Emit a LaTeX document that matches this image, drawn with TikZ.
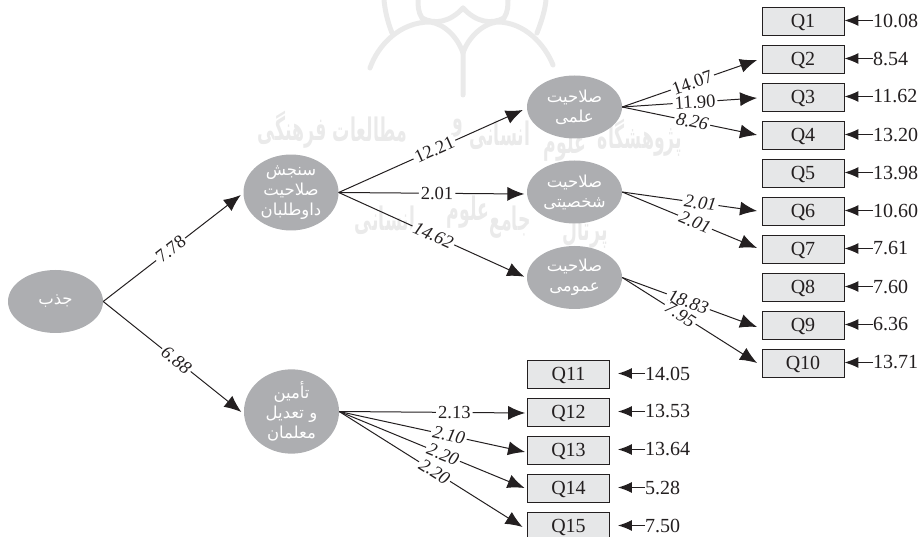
\documentclass[tikz,border=0pt]{standalone}
\usepackage{fontspec}
\setmainfont{Liberation Serif}
\newfontfamily\arabicfont[Script=Arabic]{DejaVu Sans}
\TeXXeTstate=1
\usetikzlibrary{arrows.meta,calc,shapes.geometric}
\definecolor{ellfill}{HTML}{ADAEB1}
\definecolor{ellband}{HTML}{A4A5A8}
\definecolor{boxfill}{HTML}{E6E7E8}
\definecolor{ink}{HTML}{231F20}
\definecolor{wm}{HTML}{EAEAEA}
\tikzset{
  latent/.style={ellipse,fill=ellfill,minimum width=95pt,minimum height=63pt,inner sep=0pt,text=white,align=center,font=\arabicfont\fontsize{16.5}{20}\selectfont},
  itembox/.style={rectangle,draw=ink,line width=0.9pt,fill=boxfill,minimum width=82pt,minimum height=28pt,inner sep=0pt,text height=13pt,text depth=0pt,font=\fontsize{20}{20}\selectfont,text=ink},
  errlabel/.style={anchor=west,inner sep=0pt,font=\fontsize{20}{20}\selectfont,text=ink},
  link/.style={draw=ink,line width=1pt,-{Latex[length=17pt,width=14pt]}},
  coef/.style={sloped,fill=white,inner xsep=2pt,inner ysep=0pt,font=\fontsize{18.5}{18.5}\selectfont,text=ink},
  coefi/.style={coef,font=\fontsize{18.5}{18.5}\selectfont\itshape},
  errlink/.style={draw=ink,line width=1pt,-{Latex[length=14pt,width=11pt]}},
  orn/.style={draw=wm,line width=5pt,line cap=round},
  wmtext/.style={text=wm,inner sep=0pt,transform shape,xscale=0.72,yscale=1.35,font=\arabicfont\bfseries\fontsize{24}{24}\selectfont}
}
\begin{document}
\begin{tikzpicture}[x=1pt,y=-1pt]
\useasboundingbox (0,0) rectangle (922,537);
% watermark
\draw[orn] (370,68) .. controls (378,45) and (400,22) .. (430,22) .. controls (445,24) and (458,38) .. (463,53) -- (463,95);
\draw[orn] (553,65) .. controls (545,45) and (525,22) .. (497,22) .. controls (482,24) and (468,38) .. (463,53);
\draw[orn] (463,8) .. controls (450,22) and (435,25) .. (422,18) .. controls (418,12) and (418,5) .. (418,0);
\draw[orn] (463,8) .. controls (476,22) and (491,25) .. (504,18) .. controls (508,12) and (508,5) .. (508,0);
\draw[orn] (392,33) .. controls (387,20) and (385,10) .. (384,0);
\draw[orn] (537,33) .. controls (542,20) and (545,10) .. (546,0);
\begin{scope}[y=1pt]
\node[wmtext] (wmA1) at (640,-138) {\beginR پژوهشگاه\endR};
\node[wmtext] (wmA2) at (565,-145) {\beginR علوم\endR};
\node[wmtext] (wmA3) at (500,-135) {\beginR انسانی\endR};
\node[wmtext] (wmA4) at (458,-128) {\beginR و\endR};
\node[wmtext] (wmA5) at (370,-130) {\beginR مطالعات\endR};
\node[wmtext] (wmA6) at (292,-130) {\beginR فرهنگی\endR};
\node[wmtext] (wmB1) at (585,-232) {\beginR پرتال\endR};
\node[wmtext] (wmB2) at (510,-222) {\beginR جامع\endR};
\node[wmtext] (wmB3) at (468,-212) {\beginR علوم\endR};
\node[wmtext] (wmB4) at (385,-220) {\beginR انسانی\endR};
\end{scope}
% latent variables
\node[latent] (jazb) at (55.5,301.5) {\beginR جذب\endR};
\node[latent,path picture={\fill[ellband] (244,161) rectangle (257,224);}] (sanjesh) at (291,192.5) {\beginR سنجش\endR\\\beginR صلاحیت\endR\\\beginR داوطلبان\endR};
\node[latent] (elmi) at (574.5,107) {\beginR صلاحیت\endR\\\beginR علمی\endR};
\node[latent] (shakhsi) at (574.5,192) {\beginR صلاحیت\endR\\\beginR شخصیتی\endR};
\node[latent,path picture={\fill[ellband] (527,273) rectangle (622,310);}] (omumi) at (574.5,277.5) {\beginR صلاحیت\endR\\\beginR عمومی\endR};
\node[latent] (tamin) at (291.5,411.5) {\beginR تأمین\endR\\\beginR و تعدیل\endR\\\beginR معلمان\endR};
% indicator boxes
\foreach \n/\yy in {1/21,2/59,3/97,4/135,5/173,6/211,7/249,8/287,9/325,10/363}
  \node[itembox] (Q\n) at (803,\yy) {Q\n};
\foreach \n/\yy in {11/374,12/412,13/450,14/488,15/526}
  \node[itembox] (Q\n) at (568.5,\yy) {Q\n};
% error terms
\foreach \n/\v/\yy in {1/10.08/21,2/8.54/59,3/11.62/97,4/13.20/135,5/13.98/173,6/10.60/211,7/7.61/249,8/7.60/287,9/6.36/325,10/13.71/363}{
  \node[errlabel] (e\n) at (873,\yy-0.5) {\v};
  \draw[errlink] (e\n.west) -- (Q\n.east |- e\n.west);
}
\foreach \n/\v/\yy in {11/14.05/374,12/13.53/412,13/13.64/450,14/5.28/488,15/7.50/526}{
  \node[errlabel] (e\n) at (645,\yy-0.5) {\v};
  \draw[errlink,shorten >=8pt] (e\n.west) -- (Q\n.east |- e\n.west);
}
% structural paths
\coordinate (j) at (jazb.east);
\draw[link] (j) -- node[coef,pos=0.49] {7.78} ($(sanjesh.west)+(-2.5,2.5)$);
\draw[link] (j) -- node[coefi,pos=0.53] {6.88} ($(tamin.west)+(-2.5,0.5)$);
\draw[link] (sanjesh.east) -- node[coef,pos=0.52] {12.21} ($(elmi.west)+(-4,3)$);
\draw[link] (sanjesh.east) -- node[coef,pos=0.53] {2.01} ($(shakhsi.west)+(-2.5,2)$);
\draw[link] (sanjesh.east) -- node[coefi,pos=0.51] {14.62} ($(omumi.west)+(-2.5,-0.8)$);
% elmi
\draw[link] (elmi.east) -- node[coef,pos=0.52] {14.07} ($(Q2.west)+(-4.5,1)$);
\draw[link] (elmi.east) -- node[coef,pos=0.54] {11.90} ($(Q3.west)+(-4.5,1)$);
\draw[link] (elmi.east) -- node[coefi,pos=0.52] {8.26} ($(Q4.west)+(-4.5,0)$);
% shakhsi
\draw[link] (shakhsi.east) -- node[coefi,pos=0.58] {2.01} ($(Q6.west)+(-4.5,0)$);
\draw[link] (shakhsi.east) -- node[coefi,pos=0.54] {2.01} ($(Q7.west)+(-4.5,-1)$);
% omumi
\draw[link] (omumi.east) -- node[coefi,pos=0.49] {18.83} ($(Q9.west)+(-4.5,2)$);
\draw[link] (omumi.east) -- node[coefi,pos=0.43] {7.95} ($(Q10.west)+(-4.5,0)$);
% tamin
\draw[link] (tamin.east) -- node[coef,pos=0.62] {2.13} ($(Q12.west)+(-2,1)$);
\draw[link] (tamin.east) -- node[coefi,pos=0.59] {2.10} ($(Q13.west)+(-2,2)$);
\draw[link] (tamin.east) -- node[coefi,pos=0.56] {2.20} ($(Q14.west)+(-2.5,0)$);
\draw[link] (tamin.east) -- node[coefi,pos=0.52] {2.20} ($(Q15.west)+(-4.5,1)$);
\end{tikzpicture}
\end{document}
